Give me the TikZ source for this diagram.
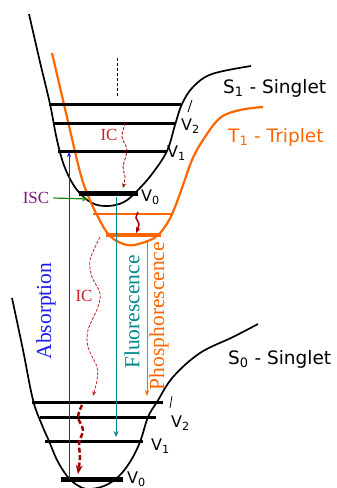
\documentclass[tikz,border=0pt]{standalone}
\usepackage{fontspec}
\setmainfont{Liberation Serif}
\newfontfamily\sansf{DejaVu Sans}
\usetikzlibrary{arrows.meta}
\definecolor{orng}{RGB}{255,102,0}
\definecolor{tealc}{RGB}{0,135,135}
\definecolor{bluec}{RGB}{30,30,235}
\definecolor{purp}{RGB}{128,20,128}
\definecolor{greenc}{RGB}{20,140,20}
\definecolor{icred}{RGB}{200,30,40}
\definecolor{dred}{RGB}{160,0,0}
\tikzset{
  curveblk/.style={line width=1.7pt, black},
  curveorg/.style={line width=2.2pt, orng},
  lev/.style={line width=3pt, black},
  levzero/.style={line width=5pt, black},
  vlab/.style={font=\sansf\fontsize{16}{16}\selectfont, anchor=west, inner sep=0pt},
  statelab/.style={font=\sansf\fontsize{18.5}{19}\selectfont, anchor=west, inner sep=0pt},
  rotlab/.style={font=\fontsize{21.5}{21.5}\selectfont, rotate=90, inner sep=0pt},
  iclab/.style={font=\fontsize{17}{17}\selectfont, inner sep=0pt},
}
\begin{document}
\begin{tikzpicture}[x=1pt,y=-1pt]
\useasboundingbox (0,0) rectangle (337,488);
\begin{scope}
\clip (0,0) rectangle (337,488);
% S1 curve
\draw[curveblk] plot[smooth, tension=0.6] coordinates {(29,14) (40,62) (50,104) (57,140) (65,168) (77,190) (92,203) (108,206) (124,202) (137,191) (152,174) (167,151) (175,125) (182,104) (193,87) (212,74) (251,66)};
% T1 curve
\draw[curveorg] plot[smooth, tension=0.6] coordinates {(52,53) (70,130) (80,172) (87,193) (97,215) (110,236) (127,245) (142,243) (157,236) (168,222) (175,207) (182,188) (192,160) (203,140) (220,118) (240,110) (263,107)};
% S0 curve
\draw[curveblk] plot[smooth, tension=0.6] coordinates {(12,298) (23,350) (33,400) (42,425) (49,441) (57,460) (67,476) (77,485) (88,489) (104,486) (118,477) (130,462) (140,442) (148,417) (157,402) (173,377) (200,353) (233,337) (258,324)};
\end{scope}
% S1 levels
\draw[lev] (49,104) -- (181,104);
\draw[lev] (53,123) -- (175,123);
\draw[lev] (58,151) -- (167,151);
\draw[levzero] (79,193) -- (138,193);
% T1 levels
\draw[orng, line width=2.5pt] (93,214) -- (172,214);
\draw[orng, line width=4pt] (106,235) -- (161,235);
% S0 levels
\draw[lev] (32,402) -- (163,402);
\draw[lev] (40,417) -- (156,417);
\draw[lev] (45,441) -- (143,441);
\draw[levzero] (61,479) -- (123,479);
% dashed vertical
\draw[black, line width=1pt, dashed, dash pattern=on 3pt off 2pt] (117,58) -- (117,98);
% ticks
\draw[black, line width=0.8pt] (192,100) -- (188,112);
\draw[black, line width=0.8pt] (172,396) -- (170,408);
% labels
\node[statelab] (s1) at (223,88) {S\textsubscript{1} - Singlet};
\node[statelab, text=orng] (t1) at (228,137) {T\textsubscript{1} - Triplet};
\node[statelab] (s0) at (228,359) {S\textsubscript{0} - Singlet};
\node[vlab] (a2) at (181,126) {V\textsubscript{2}};
\node[vlab] (a1) at (167,153) {V\textsubscript{1}};
\node[vlab] (a0) at (141,197) {V\textsubscript{0}};
\node[vlab] (b2) at (171,423) {V\textsubscript{2}};
\node[vlab] (b1) at (151,446) {V\textsubscript{1}};
\node[vlab] (b0) at (127,479) {V\textsubscript{0}};
% coordinates for transitions
\coordinate (absB) at (69,479);
\coordinate (absT) at (69,152);
\coordinate (flT) at (116,197);
\coordinate (flB) at (116,437);
\coordinate (phT) at (147,241);
\coordinate (phB) at (147,396);
% radiative
\draw[bluec, line width=0.9pt, -{Stealth[length=5pt,width=4pt]}] (absB) -- (absT);
\draw[tealc, line width=0.9pt, -{Stealth[length=6pt,width=5pt]}] (flT) -- (flB);
\draw[orng, line width=0.9pt, -{Stealth[length=6pt,width=4pt]}] (phT) -- (phB);
\node[rotlab, text=bluec] (abs) at (46,311) {Absorption};
\node[rotlab, text=tealc] (flu) at (132,312) {Fluorescence};
\node[rotlab, text=orng] (pho) at (159,316) {Phosphorescence};
% ISC
\node[iclab, text=purp] (isc) at (36,198) {ISC};
\coordinate (iscT) at (88,199);
\draw[greenc, line width=1.2pt, -{Stealth[length=6pt,width=5pt]}] (isc.east) ++(4,0) -- (iscT);
% IC top
\node[iclab, text=icred] (ic1) at (109,135) {IC};
\draw[dred, line width=0.8pt, dashed, dash pattern=on 3pt off 1.5pt, -{Stealth[length=5pt,width=4pt]}] plot[smooth] coordinates {(125,123) (122,137) (127,150) (123,167) (125,177) (123,188)};
% small squiggle between T1 levels
\draw[dred, line width=1.5pt, -{Stealth[length=6pt,width=5pt]}] plot[smooth] coordinates {(138,212) (136,218) (139,224) (136,233)};
% IC bottom
\node[iclab, text=icred] (ic2) at (84,296) {IC};
\draw[icred, line width=0.8pt, dashed, dash pattern=on 3pt off 1.5pt, -{Stealth[length=5pt,width=4pt]}] plot[smooth] coordinates {(100,237) (90,260) (92,277) (100,293) (98,307) (88,330) (88,347) (97,367) (97,380) (93,396)};
% bottom vibrational relaxation
\draw[dred, line width=2.5pt, dashed, dash pattern=on 5pt off 2.5pt, -{Stealth[length=9pt,width=7pt]}] plot[smooth] coordinates {(82,405) (78,417) (83,430) (79,443) (80,457) (78,474)};
\end{tikzpicture}
\end{document}
